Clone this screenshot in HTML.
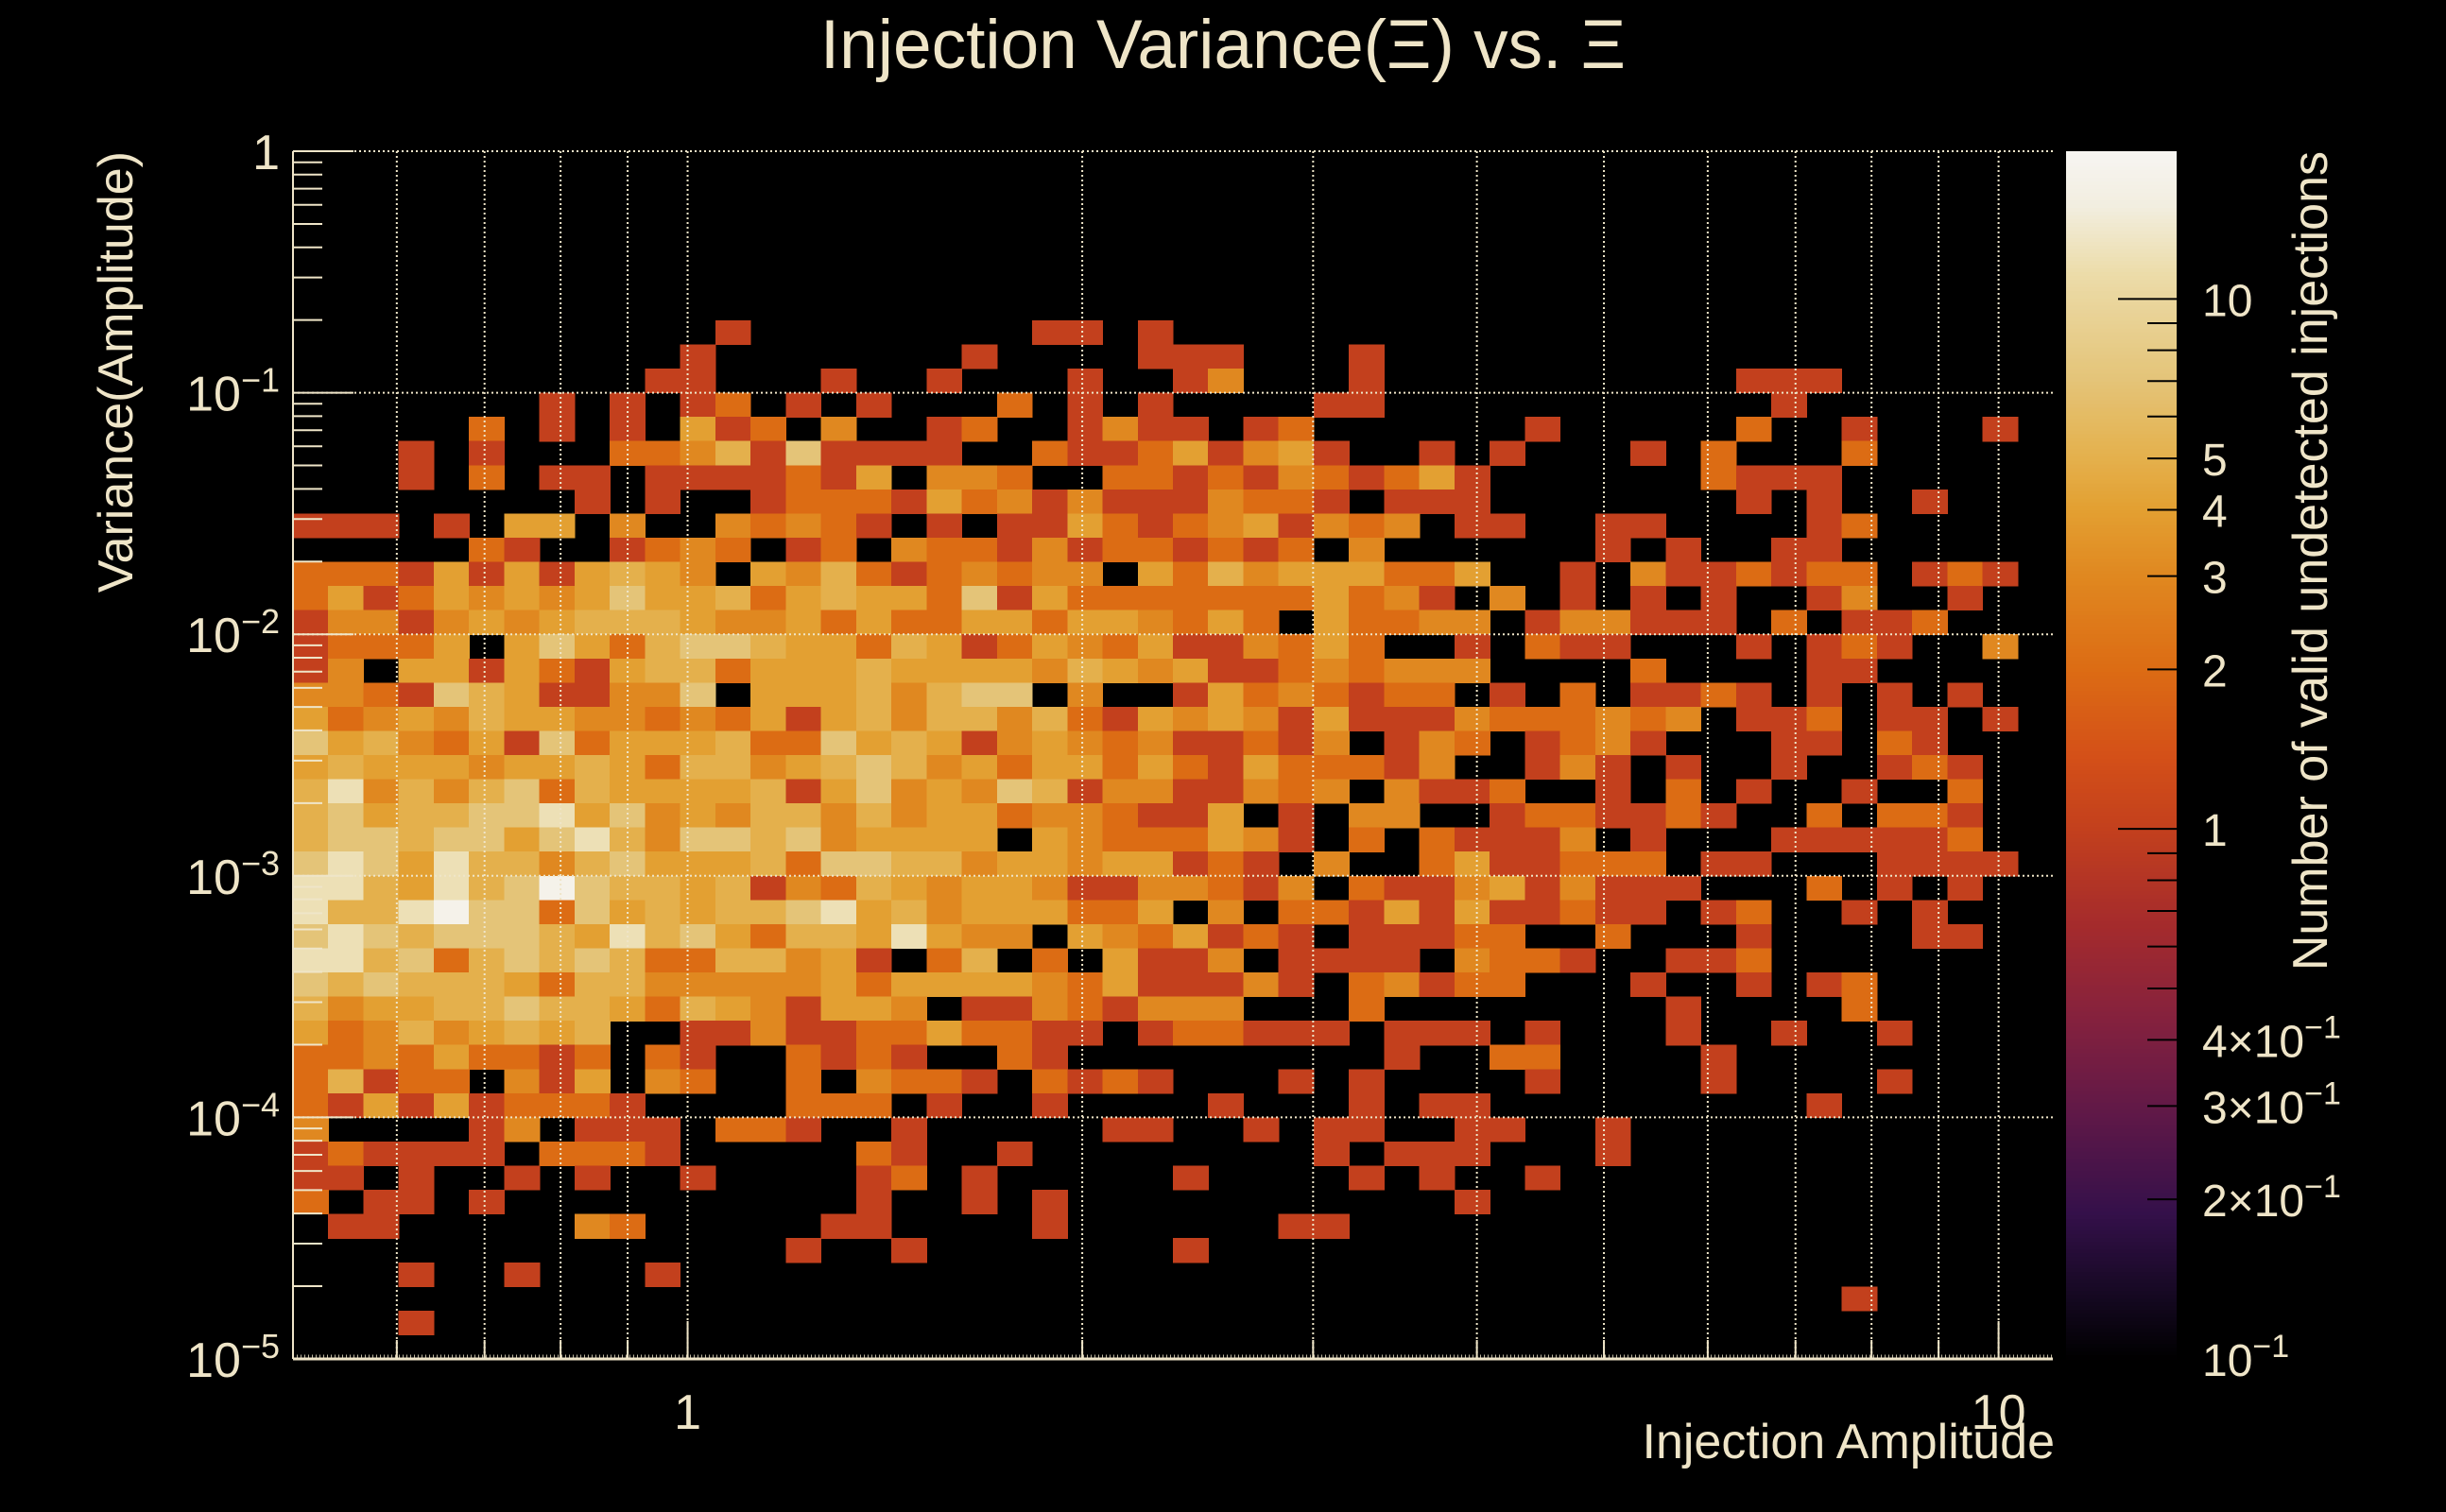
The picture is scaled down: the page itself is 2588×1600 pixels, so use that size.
<!DOCTYPE html>
<html>
<head>
<meta charset="utf-8">
<style>
  html,body{margin:0;padding:0;background:#000;}
  svg{display:block;}
  text{font-family:"Liberation Sans", sans-serif; fill:#efe5c8;}
</style>
</head>
<body>
<svg id="chart" width="2588" height="1600" viewBox="0 0 2588 1600" xmlns="http://www.w3.org/2000/svg">
  <rect x="0" y="0" width="2588" height="1600" fill="#000"/>
  <text x="1294" y="72" font-size="73" text-anchor="middle">Injection Variance(Ξ) vs. Ξ</text>
  <text transform="translate(140,160) rotate(-90)" font-size="52" text-anchor="end">Variance(Amplitude)</text>
  <text x="2174" y="1543" font-size="52" text-anchor="end">Injection Amplitude</text>
  <text transform="translate(2462,160) rotate(-90)" font-size="52" text-anchor="end">Number of valid undetected injections</text>
  <g id="cells"></g>
  <g id="grid"></g>
  <g id="axes"></g>
  <g id="colorbar"></g>
</svg>
<script>
// ---- data ----
const xRange = [0.5, 11];
const yRange = [1e-5, 1];
const nBinsX = 50;
const nBinsY = 50;
const zMin = 0.1;
const zMax = 19;
// code characters -> counts
const codeValues = {'.':0,'1':1,'2':2,'3':3,'4':4,'5':5,'7':7,'9':12,'a':17};
// rows from top (highest variance) to bottom; each row = cols 0..49
const counts = [
  "..................................................",
  "..................................................",
  "..................................................",
  "..................................................",
  "..................................................",
  "..................................................",
  "..................................................",
  "............1...." + "....11.1........." + "................",
  "...........1....." + "..1....111...1..." + "................",
  "..........11...1." + ".1...1..13...1..." + ".......111......",
  ".......1.1.12.1.1" + "...2.1.1....11..." + "........1.......",
  ".....2.1.1.412.3." + ".12..1311.12....." + ".1.....2..1...1.",
  "...1.1...22351711" + "11..211241341..1." + "1...1.2...2.....",
  "...1.2.11.1111214" + ".332..22121321241" + "......2111......",
  "........1.1..1222" + "1423131113221.111" + ".......1.1..1...",
  "111.1.44.3..32321" + ".1.114212341323.1" + "1..11....12.....",
  ".....21..1232.12." + "322131221212.3..." + "...1.1..11......",
  "222141414543.4352" + "123233.4253444224" + "..1.3112122.121.",
  "24124343474452454" + "4271422222224231." + "3.1.1.1..13..1..",
  "13313434555433424" + "22442443242.42233" + ".133111.2.112...",
  "12224.47425775442" + "54124324113242..1" + ".211...1.121..3.",
  "13.44142145524445" + "44443543411232333" + "....2....11.....",
  "332175411337.4445" + "3577.3..14232122." + "1.2.1121.1.1.1..",
  "42343544332324145" + "35535214343141113" + "222323.112.11.1.",
  "74532417244452274" + "5413432311213.132" + ".1231...11.21...",
  "45444344542553457" + "5342442421422213." + ".131.1..1..121..",
  "59353572544445147" + "3437513311323.311" + "2..1.2.1..1..2..",
  "57455779473435535" + "3442332114.1.33.." + "1221121..2.221..",
  "57757747953775734" + "444.43222431.2.21" + "113.1...111112..",
  "79749553574445277" + "55344344121.3..24" + "11222.11...1111.",
  "9954957a755451325" + "434431133213.2113" + "413111...2.1.1..",
  "9559a772745455794" + "53444224.3.221414" + "11211.12..1.1...",
  "79757775495742554" + "9433.4324121.1112" + "2..2...1....11..",
  "99572575752255341" + ".25.2.4113.1111.3" + "221..112........",
  "75755542553333342" + "444432411131.2312" + "2...1..1.12.....",
  "53445575542543144" + "3.11321333...2..." + ".....1....2.....",
  "423534545..113112" + "242211.122111.111" + ".1...1..1..1....",
  "223242212.21..212" + "1..21.........1.." + "22....1.........",
  "25122.314.32..2.3" + "221.2121...1.1..." + ".1....1....1....",
  "2141412221....222" + ".1..1....1...1.11" + ".........1......",
  "3....13.111.221.." + "1.....11..1.11..1" + "1..1............",
  "121111.2221.....2" + "1..1........1.111" + "...1............",
  "11.1..1.1..1....1" + "2.1.....1....1.1." + ".1..............",
  "2.11.1..........1" + "..1.1...........1" + "................",
  ".11.....32.....11" + "....1......11...." + "................",
  "..............1.." + "1.......1........" + "................",
  "...1..1...1......" + "................." + "................",
  "................." + "................." + "..........1.....",
  "...1............." + "................." + "................",
  "................." + "................." + "................"
];
const xMajorTicks = [1, 10];
const xMajorLabels = ["1", "10"];
const xGridValues = [0.6,0.7,0.8,0.9,1,2,3,4,5,6,7,8,9,10];
const yMajorTicks = [1, 1e-1, 1e-2, 1e-3, 1e-4, 1e-5];
const yMajorExp = [0, -1, -2, -3, -4, -5];
const zLabelValues = [10, 5, 4, 3, 2, 1, 0.4, 0.3, 0.2, 0.1];
const zLabelMant = ["10", "5", "4", "3", "2", "1", "4", "3", "2", "1"];
const zLabelSci = [false, false, false, false, false, false, true, true, true, true];
const zMinorTicks = [9,8,7,6,5,4,3,2,0.9,0.8,0.7,0.6,0.5,0.4,0.3,0.2];

// ---- layout ----
const PX0 = 310, PX1 = 2172, PY0 = 160, PY1 = 1438;
const CBX0 = 2186, CBX1 = 2303;
const NS = "http://www.w3.org/2000/svg";
const TXT = "#efe5c8";
const L = Math.log10;

function xScale(v){ return PX0 + (L(v) - L(xRange[0])) / (L(xRange[1]) - L(xRange[0])) * (PX1 - PX0); }
function yScale(v){ return PY1 - (L(v) - L(yRange[0])) / (L(yRange[1]) - L(yRange[0])) * (PY1 - PY0); }
function zFrac(v){ return (L(zMax) - L(v)) / (L(zMax) - L(zMin)); }
function zScale(v){ return PY0 + zFrac(v) * (PY1 - PY0); }

const stops = [
  [0.000,[247,245,242]],[0.045,[242,238,224]],[0.100,[236,220,170]],[0.190,[228,196,120]],
  [0.254,[228,176,76]],[0.296,[227,160,50]],[0.351,[224,136,32]],[0.429,[220,108,20]],
  [0.500,[212,80,24]],[0.561,[195,64,29]],[0.640,[165,43,44]],[0.720,[132,33,62]],
  [0.800,[94,24,72]],[0.880,[52,16,74]],[0.950,[20,8,32]],[1.000,[0,0,0]]
];
function colorAt(f){
  f = Math.max(0, Math.min(1, f));
  for (let i = 1; i < stops.length; i++){
    if (f <= stops[i][0]){
      const a = stops[i-1], b = stops[i];
      const t = (f - a[0]) / (b[0] - a[0]);
      const c = a[1].map((v,k)=>Math.round(v + (b[1][k]-v)*t));
      return "rgb(" + c.join(",") + ")";
    }
  }
  return "rgb(0,0,0)";
}
function mk(tag, attrs, parent){
  const e = document.createElementNS(NS, tag);
  for (const k in attrs) e.setAttribute(k, attrs[k]);
  parent.appendChild(e);
  return e;
}
function xEdge(i){ return xRange[0] * Math.pow(xRange[1]/xRange[0], i/nBinsX); }
function yEdge(j){ return yRange[0] * Math.pow(yRange[1]/yRange[0], j/nBinsY); }

// ---- cells ----
const gCells = document.getElementById("cells");
counts.forEach((row, r) => {
  const j = nBinsY - 1 - r;
  for (let i = 0; i < nBinsX; i++){
    const v = codeValues[row[i]] || 0;
    if (v <= 0) continue;
    const xa = xScale(xEdge(i)), xb = xScale(xEdge(i+1));
    const ya = yScale(yEdge(j+1)), yb = yScale(yEdge(j));
    const rc = mk("rect", {x:xa.toFixed(2), y:ya.toFixed(2), width:(xb-xa+0.6).toFixed(2), height:(yb-ya+0.6).toFixed(2), fill:colorAt(zFrac(v)), "shape-rendering":"crispEdges"}, gCells);
    
    
  }
});

// ---- grid ----
const gGrid = document.getElementById("grid");
xGridValues.forEach(v => {
  const x = xScale(v);
  const ln = mk("line", {x1:x, x2:x, y1:PY0, y2:PY1, stroke:TXT, "stroke-width":2, "stroke-dasharray":"2 3"}, gGrid);
  
  
});
yMajorTicks.slice(0,5).forEach(v => {
  const y = yScale(v);
  const ln = mk("line", {x1:PX0, x2:PX1, y1:y, y2:y, stroke:TXT, "stroke-width":2, "stroke-dasharray":"2 3"}, gGrid);
  
  
});

// ---- axes ----
const gAx = document.getElementById("axes");
const yAxisLine = mk("line", {x1:PX0, x2:PX0, y1:PY0, y2:PY1, stroke:TXT, "stroke-width":2}, gAx);


const xAxisLine = mk("line", {x1:PX0, x2:PX1, y1:PY1, y2:PY1, stroke:TXT, "stroke-width":3}, gAx);


const ruler = mk("line", {x1:PX0, x2:PX1, y1:PY1-3, y2:PY1-3, stroke:TXT, "stroke-width":3, "stroke-dasharray":"1 3", opacity:0.8}, gAx);


xGridValues.forEach(v => {
  const x = xScale(v);
  const t = mk("line", {x1:x, x2:x, y1:PY1, y2:PY1-(v===1||v===10?40:20), stroke:TXT, "stroke-width":2}, gAx);
  
  
});
xMajorTicks.forEach((v, k) => {
  const t = mk("text", {x:xScale(v), y:1512, "font-size":52, "text-anchor":"middle"}, gAx);
  t.textContent = xMajorLabels[k];
  
  
});
yMajorTicks.forEach((v, k) => {
  const y = yScale(v);
  const t = mk("line", {x1:PX0, x2:PX0+64, y1:y, y2:y, stroke:TXT, "stroke-width":2}, gAx);
  
  
  if (k < yMajorTicks.length - 1){
    for (let m = 2; m <= 9; m++){
      const ym = yScale(v / 10 * m);
      const mt = mk("line", {x1:PX0, x2:PX0+31, y1:ym, y2:ym, stroke:TXT, "stroke-width":2}, gAx);
      
      
    }
  }
  const lab = mk("text", {x:296, y:y+19, "font-size":52, "text-anchor":"end"}, gAx);
  
  
  if (yMajorExp[k] === 0){
    lab.textContent = "1";
  } else {
    const a = mk("tspan", {}, lab); a.textContent = "10";
    const b = mk("tspan", {dy:-20, "font-size":36}, lab); b.textContent = "−" + (-yMajorExp[k]);
  }
});

// ---- colorbar ----
const gCb = document.getElementById("colorbar");
const NSL = 320;
for (let s = 0; s < NSL; s++){
  const f0 = s / NSL;
  const r = mk("rect", {x:CBX0, y:(PY0 + f0*(PY1-PY0)).toFixed(2), width:CBX1-CBX0, height:((PY1-PY0)/NSL+0.8).toFixed(2), fill:colorAt(f0 + 0.5/NSL), "shape-rendering":"crispEdges"}, gCb);
  
  
}
[10, 1].forEach(v => {
  const y = zScale(v);
  const t = mk("line", {x1:CBX1-62, x2:CBX1, y1:y, y2:y, stroke:"#000", "stroke-width":2}, gCb);
  
  
});
zMinorTicks.forEach(v => {
  const y = zScale(v);
  const t = mk("line", {x1:CBX1-31, x2:CBX1, y1:y, y2:y, stroke:"#000", "stroke-width":2}, gCb);
  
  
});
zLabelValues.forEach((v, k) => {
  const y = zScale(v);
  const lab = mk("text", {x:2330, y:Math.min(y+18, 1458), "font-size":48}, gCb);
  
  
  if (!zLabelSci[k] && v !== 0.1){
    lab.textContent = zLabelMant[k];
  } else if (v === 0.1){
    const a = mk("tspan", {}, lab); a.textContent = "10";
    const b = mk("tspan", {dy:-20, "font-size":34}, lab); b.textContent = "−1";
  } else {
    const a = mk("tspan", {}, lab); a.textContent = zLabelMant[k] + "×10";
    const b = mk("tspan", {dy:-20, "font-size":34}, lab); b.textContent = "−1";
  }
});
</script>
</body>
</html>
